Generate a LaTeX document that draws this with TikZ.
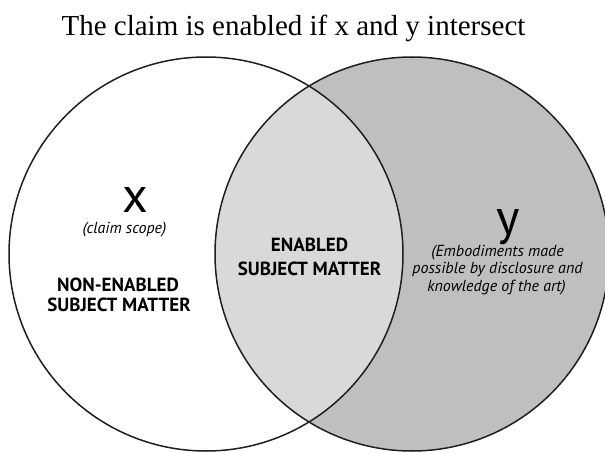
\documentclass[tikz,border=0pt]{standalone}
\usepackage{fontspec}
\setmainfont{Liberation Serif}
\newfontfamily\labelfont{PT Sans}
\begin{document}
\begin{tikzpicture}[x=1pt,y=-1pt,
  ring/.style={draw=black!88, line width=1.5pt},
  capsbox/.style={font=\labelfont\bfseries\fontsize{19}{21}\selectfont, inner sep=0pt, anchor=base},
  notebox/.style={font=\labelfont\itshape\fontsize{16}{18}\selectfont, inner sep=0pt, anchor=base},
  letterbox/.style={font=\labelfont\fontsize{50}{50}\selectfont, inner sep=0pt, anchor=base}]
\useasboundingbox (0,0) rectangle (605,452);

% the two sets and their overlap
\begin{scope}
  \clip (0,0) rectangle (605,452);
  \coordinate (cx) at (206,254);
  \coordinate (cy) at (412,254);
  \fill[black!25] (cy) circle[radius=197];
  \begin{scope}
    \clip (cx) circle[radius=197];
    \fill[black!15] (cy) circle[radius=197];
  \end{scope}
  \draw[ring] (cx) circle[radius=197];
  \draw[ring] (cy) circle[radius=197];
\end{scope}

% heading
\node[font=\fontsize{29}{32}\selectfont, anchor=base, inner sep=0pt] (title)
  at (293.5,35.5) {The claim is enabled if x and y intersect};

% set x
\node[letterbox] (xletter) at (135,212) {x};
\node[notebox] (xnote) at (124.5,233.5) {(claim scope)};
\node[capsbox] (nonen1) at (118,291.5) {NON-ENABLED};
\node[capsbox] (nonen2) at (119,311.5) {SUBJECT MATTER};

% overlap
\node[capsbox] (en1) at (309.5,251.5) {ENABLED};
\node[capsbox] (en2) at (309.5,275) {SUBJECT MATTER};

% set y
\node[letterbox] (yletter) at (508,234) {y};
\node[notebox] (ynote1) at (497.5,256.5) {(Embodiments made};
\node[notebox] (ynote2) at (497.5,273.5) {possible by disclosure and};
\node[notebox] (ynote3) at (496.5,291) {knowledge of the art)};
\end{tikzpicture}
\end{document}
